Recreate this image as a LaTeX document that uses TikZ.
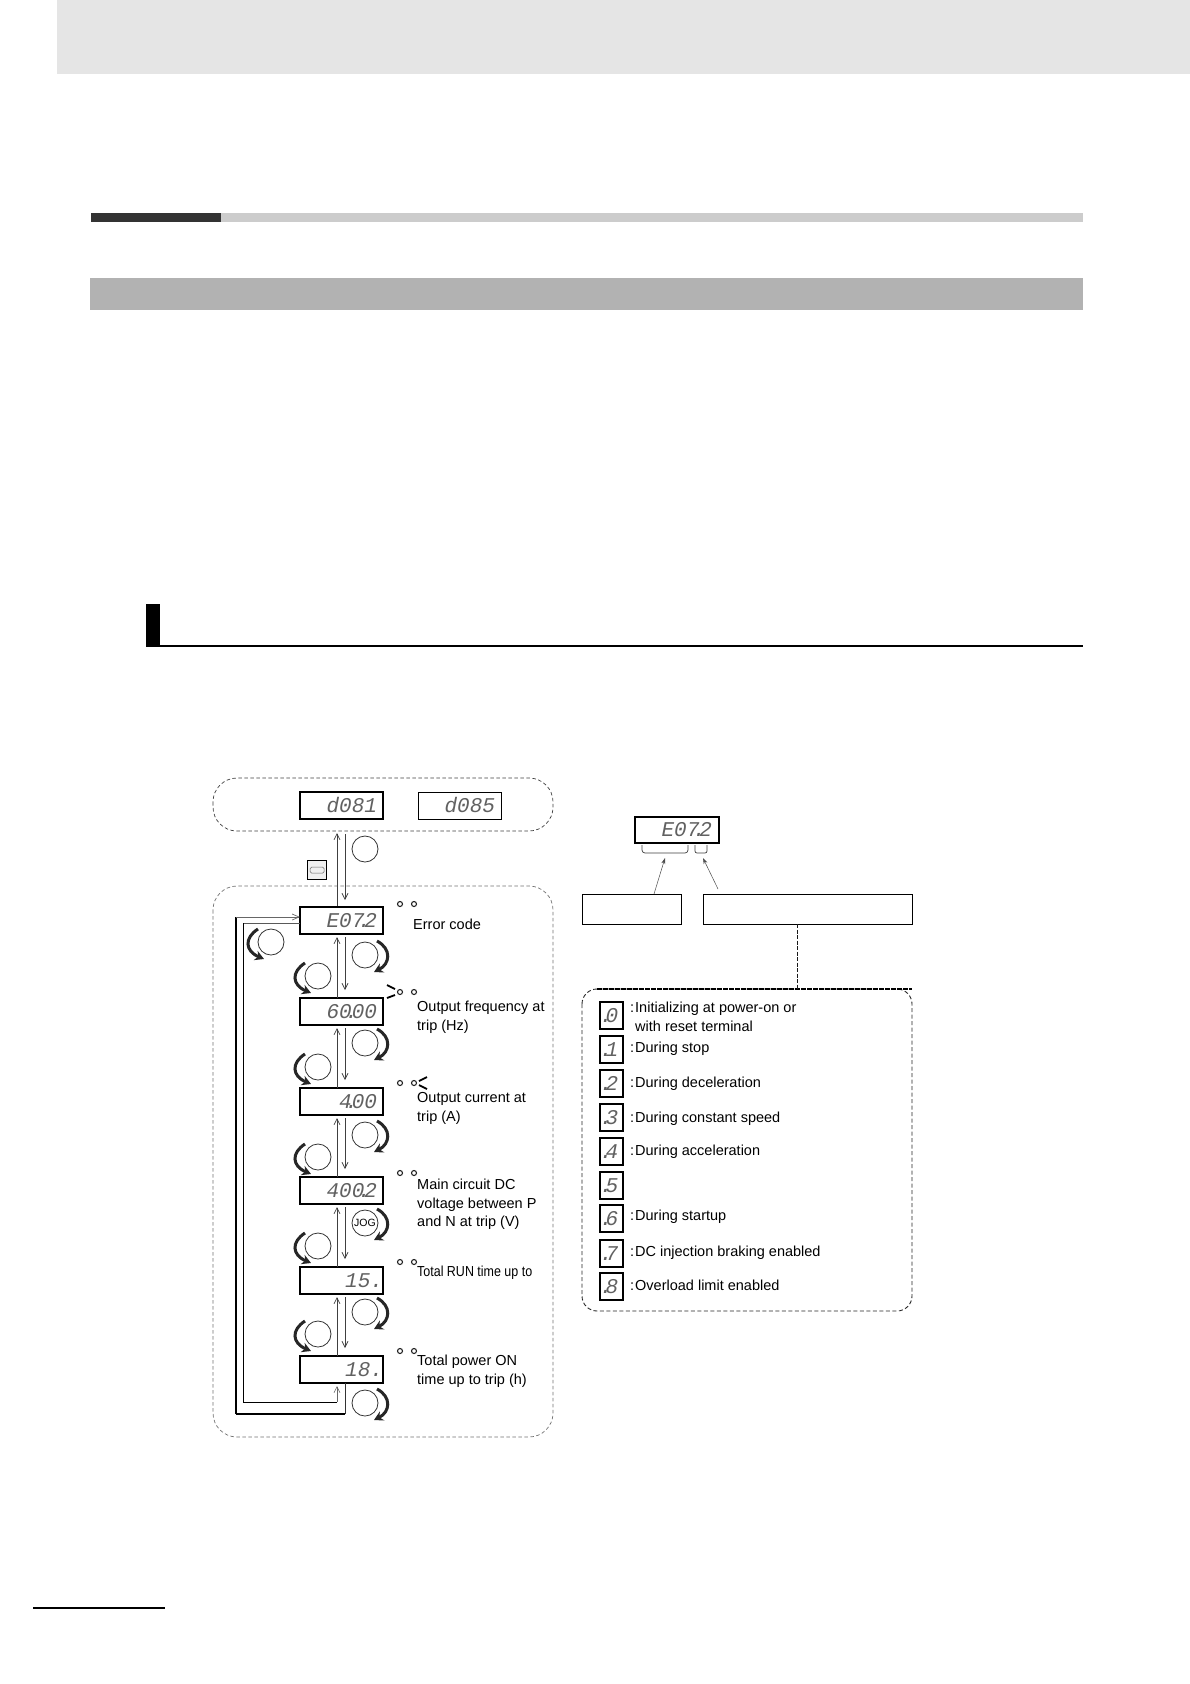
\documentclass[tikz,border=0pt]{standalone}
\usepackage{fontspec}
\setmainfont{Liberation Sans}
\newfontfamily\segfont{Liberation Mono}
\usetikzlibrary{arrows.meta,calc}
\newcommand\dd{\kern-.3em.\kern-.3em}
\newcommand\segline[3][6pt]{\parbox{#2}{\raggedleft\raisebox{-2.5pt}{#3}\kern#1\strut}}
\tikzset{
 x=1pt,y=-1pt,
 disp/.style={draw=black,line width=1.3pt,fill=white,minimum width=83pt,minimum height=27pt,inner sep=0pt,outer sep=0pt,anchor=north west,font=\segfont\itshape\fontsize{21}{21}\selectfont,text=black!62,align=right},
 sdisp/.style={draw=black,line width=1.1pt,fill=white,minimum width=23pt,minimum height=27pt,inner sep=0pt,outer sep=0pt,anchor=north west,font=\segfont\itshape\fontsize{21}{21}\selectfont,text=black!62},
 btn/.style={circle,draw=black!80,line width=.8pt,minimum size=26pt,inner sep=0pt,outer sep=0pt,fill=white},
 led/.style={circle,draw=black!85,line width=1.1pt,minimum size=5pt,inner sep=0pt},
 lbl/.style={anchor=base west,inner sep=0pt,font=\fontsize{14.5}{16}\selectfont,text=black},
 turn/.style={line width=3pt,black!85,-{Stealth[length=9pt,width=10pt]}},
 flow/.style={line width=.7pt,black!75,-{Straight Barb[length=6pt,width=6pt]}},
 looplink/.style={line width=1.1pt,black},
 dashA/.style={draw=black!75,line width=.7pt,dash pattern=on 3.5pt off 2.5pt,rounded corners=24pt},
 dashB/.style={draw=black!85,line width=.9pt,dash pattern=on 4pt off 2.5pt,rounded corners=15pt},
 plainbox/.style={draw=black,line width=.9pt,inner sep=0pt,outer sep=0pt,anchor=north west},
}
\newcommand\rarc[1]{\draw[turn] ([shift={(12,-14)}]#1.center) .. controls ([shift={(27,-6)}]#1.center) and ([shift={(25,9)}]#1.center) .. ([shift={(9,17)}]#1.center);}
\newcommand\larc[1]{\draw[turn] ([shift={(-13,-13)}]#1.center) .. controls ([shift={(-27,-4)}]#1.center) and ([shift={(-26,9)}]#1.center) .. ([shift={(-7,17)}]#1.center);}
\begin{document}
\begin{tikzpicture}
\useasboundingbox (0,0) rectangle (1190,1684);
\fill[white] (0,0) rectangle (1190,1684);
% page furniture
\fill[black!10] (57,0) rectangle (1190,74);
\fill[black!20] (221,213) rectangle (1083,222);
\fill[black!80] (91,213) rectangle (221,222);
\fill[black!30] (90,278) rectangle (1083,310);
\fill[black] (146,604) rectangle (160,645);
\fill[black] (146,645) rectangle (1083,647);
\fill[black] (33,1607) rectangle (165,1609);
% regions
\draw[dashA] (213,778) rectangle (553,831);
\draw[dashA,black!55] (213,886) rectangle (553,1437);
% displays
\node[disp] (top1) at (300,792) {\segline{83pt}{d081}};
\node[disp,line width=1pt] (top2) at (418,792) {\segline{83pt}{d085}};
\node[disp] (d1) at (300,907) {\segline{83pt}{E07\dd2}};
\node[disp] (d2) at (300,998) {\segline{83pt}{60\dd00}};
\node[disp] (d3) at (300,1088) {\segline{83pt}{4\dd00}};
\node[disp] (d4) at (300,1177) {\segline{83pt}{400\dd2}};
\node[disp] (d5) at (300,1267) {\segline[0pt]{83pt}{15.}};
\node[disp] (d6) at (300,1356) {\segline[0pt]{83pt}{18.}};
% top buttons
\node[btn] (func) at (365,849) {};
\node[draw=black,line width=1.2pt,fill=black!6,minimum size=19pt,inner sep=0pt,anchor=north west] (stopbtn) at (307,860) {};
\draw[black!60,line width=.6pt,rounded corners=1.5pt] ([shift={(-7,-3)}]stopbtn.center) rectangle ([shift={(7,3)}]stopbtn.center);
\coordinate (tu) at (337,833); \coordinate (td) at (345,834);
\draw[flow] (d1.north -| tu) ++(0,-1) -- (tu);
\draw[flow] (td) -- ($(d1.north -| td)+(0,-7)$);
% flows between displays
\foreach \a/\b in {d1/d2,d2/d3,d3/d4,d4/d5,d5/d6}{
 \draw[flow] ($(\b.north west)+(37,0)$) -- ($(\a.south west)+(37,3)$);
 \draw[flow] ($(\a.south west)+(45,3)$) -- ($(\b.north west)+(45,-8)$);
}
% buttons
\node[btn] (lc0) at (271,942) {};
\foreach \i/\y in {1/955,2/1043,3/1135,5/1312,6/1403}{
 \node[btn] (rc\i) at (365,\y) {};
 \rarc{rc\i}
}
\node[btn,font=\fontsize{10.5}{11}\selectfont] (rc4) at (365,1223) {JOG};
\rarc{rc4}
\foreach \i/\y in {1/976,2/1067,3/1157,4/1246,5/1334}{
 \node[btn] (lc\i) at (318,\y) {};
 \larc{lc\i}
}
\larc{lc0}
% outer loop
\coordinate (lo1) at (236,917); \coordinate (lo2) at (236,1414); \coordinate (lo3) at (345,1414);
\coordinate (li1) at (243,923); \coordinate (li2) at (243,1402); \coordinate (li3) at (337,1402);
\draw[looplink] (lo2) -- (lo1);
\draw[line width=.7pt,black!60,-{Straight Barb[length=7pt,width=6pt]}] (lo1) -- (lo1 -| d1.west);
\draw[looplink] (lo2) -- (lo3);
\draw[line width=.8pt,black!80] (lo3) -- (lo3 |- d6.south);
\draw[line width=.8pt,black!65] (li1 -| d1.west) -- (li1);
\draw[looplink,line width=.9pt] (li1) -- (li2) -- (li3);
\draw[line width=.6pt,black!60,-{Straight Barb[length=6pt,width=6pt]}] (li3) -- ($(li3 |- d6.south)+(0,3)$);
% LEDs
\foreach \i/\y in {1/904,2/992,3/1083,4/1173,5/1262,6/1351}{
 \node[led] (la\i) at (400,\y) {};
 \node[led] (lb\i) at (414,\y) {};
}
\draw[line width=1.8pt,black] ($(la2)+(-13,-7)$) -- ($(la2)+(-5,-3)$);
\draw[line width=1.8pt,black] ($(la2)+(-13,6)$) -- ($(la2)+(-5,3)$);
\draw[line width=1.8pt,black] ($(lb3)+(13,-6)$) -- ($(lb3)+(5,-2)$);
\draw[line width=1.8pt,black] ($(lb3)+(13,6)$) -- ($(lb3)+(5,2)$);
% labels
\node[lbl] (t1) at (413,929) {Error code};
\node[lbl] (t2) at (417,1011) {Output frequency at};
\node[lbl] (t2b) at (417,1030) {trip (Hz)};
\node[lbl] (t3) at (417,1102) {Output current at};
\node[lbl] (t3b) at (417,1121) {trip (A)};
\node[lbl] (t4) at (417,1189) {Main circuit DC};
\node[lbl] (t4b) at (417,1208) {voltage between P};
\node[lbl] (t4c) at (417,1226) {and N at trip (V)};
\node[lbl] (t5) at (417,1276) {\addfontfeature{FakeStretch=.86}Total RUN time up to};
\node[lbl] (t6) at (417,1365) {Total power ON};
\node[lbl] (t6b) at (417,1384) {time up to trip (h)};
% right: anatomy of the code
\node[disp,minimum width=84pt,minimum height=26pt] (code) at (635,817) {\segline[7pt]{84pt}{E07\dd2}};
\draw[line width=.7pt,black!75,rounded corners=3pt] (642,845) -- (642,853) -- (688,853) -- (688,845);
\draw[line width=.7pt,black!75,rounded corners=2pt] (695,845) -- (695,853) -- (707,853) -- (707,845);
\node[plainbox,minimum width=99pt,minimum height=30pt] (bl) at (582,894) {};
\node[plainbox,minimum width=209pt,minimum height=30pt] (br) at (703,894) {};
\coordinate (pa) at (665,858); \coordinate (pb) at (703,858);
\draw[line width=.5pt,black!70,-{Stealth[length=6pt,width=4pt]}] ($(bl.north west)+(72,0)$) -- (pa);
\draw[line width=.5pt,black!70,-{Stealth[length=6pt,width=4pt]}] ($(br.north west)+(15,-5)$) -- (pb);
\draw[dashB] (582,989) rectangle (912,1311);
\draw[black,line width=1.1pt,dash pattern=on 4.5pt off 1.5pt] (582,989) ++(15,0) -- (912,989);
\draw[black!90,line width=.9pt,dash pattern=on 4pt off 1.5pt] ($(br.south west)+(94,0)$) -- (797,989);
% status list
\foreach \i/\y/\c in {0/1002/0,1/1036/1,2/1070/2,3/1104/3,4/1138/4,5/1172/5,6/1205/6,7/1240/7,8/1273/8}{
 \node[sdisp] (s\i) at (600,\y) {\raisebox{-1pt}{\kern-5pt.\kern-.32em\c}};
}
\foreach \n/\y/\tx in {a/1012/Initializing at power-on or,c/1052/During stop,d/1087/During deceleration,e/1122/During constant speed,f/1155/During acceleration,g/1220/During startup,h/1256/DC injection braking enabled,i/1290/Overload limit enabled}{
 \node[lbl] (c\n) at (630,\y) {:};
 \node[lbl] (l\n) at (635,\y) {\tx};
}
\node[lbl] (lb) at (635,1031) {with reset terminal};
\end{tikzpicture}
\end{document}
